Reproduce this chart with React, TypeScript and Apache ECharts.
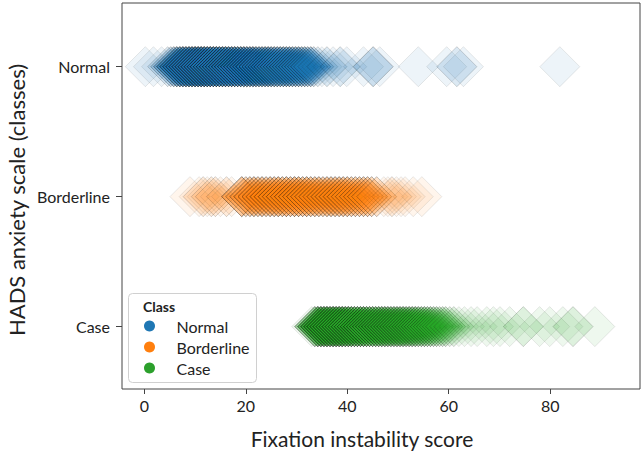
import React, { useEffect, useRef } from "react";
import * as echarts from "echarts";

const classes = ["Normal", "Borderline", "Case"];
const colors = ["#1f77b4", "#ff7f0e", "#2ca02c"];
const xTicks = [0, 20, 40, 60, 80];
const yTicks = [0, 1, 2];

// distinct scores, with how many subjects share each
const normalScores = [
  0.2, 1.8, 3.4, 4.6, 5.2, 5.8, 6.4, 7.0, 7.6, 8.2, 8.8, 9.4, 10.0, 10.6, 11.2, 11.8, 12.4,
  13.0, 13.6, 14.2, 14.8, 15.4, 16.0, 16.6, 17.2, 17.8, 18.4, 19.0, 19.6, 20.2, 20.8, 21.4,
  22.0, 22.6, 23.2, 23.8, 24.4, 25.0, 25.6, 26.2, 26.8, 27.4, 28.0, 28.6, 29.2, 29.8, 30.4,
  31.0, 31.6, 32.2, 32.8, 33.4, 34.2, 35.0, 36.0, 37.2, 38.6, 39.9, 43.2, 45.1, 46.4, 54.0,
  59.6, 61.6, 62.9, 81.9,
];
const normalCounts = [
  1, 1, 1, 2, 3, 5, 8, 10, 12, 12, 14, 14, 15, 15, 15, 15, 14,
  15, 14, 14, 13, 13, 13, 12, 12, 12, 11, 11, 11, 10, 10, 10,
  9, 9, 9, 9, 9, 8, 8, 8, 8, 8, 8, 8, 7, 7, 7,
  6, 6, 5, 5, 3, 2, 1, 2, 1, 2, 1, 1, 3, 1, 1,
  1, 2, 1, 1,
];

const borderlineScores = [
  9.0, 10.8, 11.6, 12.4, 13.2, 14.0, 15.0, 16.2, 17.2, 19.2, 20.0, 20.8, 21.6, 22.4, 23.2,
  24.0, 24.8, 25.6, 26.4, 27.2, 28.0, 28.8, 29.6, 30.4, 31.2, 32.0, 32.8, 33.6, 34.4, 35.2,
  36.0, 36.8, 37.6, 38.4, 39.2, 40.0, 40.8, 41.6, 42.4, 43.2, 44.0, 44.8, 45.8, 47.2, 48.0,
  48.8, 49.7, 50.6, 51.4, 53.0, 54.7,
];
const borderlineCounts = [
  1, 1, 2, 1, 2, 2, 1, 2, 1, 6, 4, 5, 6, 5, 6,
  5, 6, 6, 7, 6, 7, 6, 7, 7, 6, 7, 6, 6, 6, 5,
  6, 6, 6, 6, 6, 6, 5, 5, 5, 5, 5, 4, 3, 1, 1,
  2, 1, 1, 1, 1, 1,
];

const caseScores = [
  33.0, 33.6, 34.2, 34.8, 35.4, 36.0, 36.6, 37.2, 37.8, 38.4, 39.0, 39.6, 40.2, 40.8, 41.4,
  42.0, 42.6, 43.2, 43.8, 44.4, 45.0, 45.6, 46.2, 46.8, 47.4, 48.0, 48.6, 49.2, 49.8, 50.4,
  51.0, 51.6, 52.2, 52.8, 53.4, 54.0, 54.6, 55.2, 55.8, 56.4, 57.0, 57.6, 58.2, 58.8, 59.4,
  60.2, 61.0, 62.0, 63.1, 64.4, 65.6, 67.5, 68.8, 70.1, 72.0, 74.7, 77.9, 79.9, 82.5, 84.5,
  88.8,
];
const caseCounts = [
  1, 6, 10, 12, 12, 13, 12, 13, 12, 12, 12, 11, 11, 11, 10,
  10, 10, 10, 9, 9, 9, 9, 9, 9, 9, 8, 8, 8, 8, 8,
  8, 7, 7, 7, 7, 6, 6, 6, 5, 5, 4, 4, 3, 3, 3,
  2, 2, 1, 1, 1, 1, 1, 1, 1, 1, 2, 1, 1, 1, 2,
  1,
];

const scoreLists = [normalScores, borderlineScores, caseScores];
const countLists = [normalCounts, borderlineCounts, caseCounts];

function hexToRgba(hex: string, a: number) {
  const n = parseInt(hex.slice(1), 16);
  return `rgba(${(n >> 16) & 255},${(n >> 8) & 255},${n & 255},${a})`;
}

function buildData(scores: number[], counts: number[], cls: number) {
  const out: number[][] = [];
  scores.forEach((s, k) => {
    for (let j = 0; j < counts[k]; j++) out.push([s, cls]);
  });
  return out;
}

const FONT = "Lato, 'Noto Sans', sans-serif";

export default function App() {
  const ref = useRef<HTMLDivElement>(null);
  useEffect(() => {
    if (!ref.current) return;
    const chart = echarts.init(ref.current, undefined, { renderer: "svg" });
    chart.setOption({
      animation: false,
      backgroundColor: "#ffffff",
      textStyle: { fontFamily: FONT },
      grid: {
        left: 122,
        top: 3,
        width: 518,
        height: 386,
        show: true,
        borderColor: "#444",
        borderWidth: 1,
        backgroundColor: "transparent",
        containLabel: false,
        outerBoundsMode: "none",
      },
      xAxis: {
        type: "value",
        min: -4.4,
        max: 97.7,
        splitLine: { show: false },
        axisLine: { show: false, onZero: false },
        axisTick: {
          show: true,
          length: 5,
          lineStyle: { color: "#444" },
          customValues: xTicks,
        },
        axisLabel: {
          customValues: xTicks,
          margin: 8,
          fontSize: 16,
          color: "#222",
          fontFamily: FONT,
        },
      },
      yAxis: {
        type: "value",
        inverse: true,
        min: -0.49,
        max: 2.48,
        splitLine: { show: false },
        axisLine: { show: false, onZero: false },
        axisTick: {
          show: true,
          length: 6,
          lineStyle: { color: "#444" },
          customValues: yTicks,
        },
        axisLabel: {
          customValues: yTicks,
          margin: 12,
          fontSize: 16,
          color: "#222",
          fontFamily: FONT,
          formatter: (v: number) => classes[Math.round(v)] ?? "",
        },
      },
      legend: {
        orient: "vertical",
        left: 139,
        top: 313,
        itemWidth: 20,
        itemHeight: 11,
        itemGap: 5,
        icon: "circle",
        z: 10,
        textStyle: {
          fontSize: 16,
          color: "#222",
          fontFamily: FONT,
          padding: [0, 0, 0, 12],
        },
        data: classes.map((c, i) => ({
          name: c,
          itemStyle: { color: colors[i], opacity: 1, borderWidth: 0 },
        })),
      },
      graphic: [
        {
          type: "rect",
          z: 8,
          shape: { x: 128.5, y: 293.5, width: 128, height: 89, r: 4 },
          style: { fill: "rgba(255,255,255,0.85)", stroke: "#d0d0d0", lineWidth: 1 },
        },
        {
          type: "text",
          z: 9,
          x: 143,
          y: 306,
          style: {
            text: "Class",
            fontSize: 14,
            fontWeight: "bold",
            fontFamily: FONT,
            fill: "#222",
            verticalAlign: "middle",
          },
        },
        {
          type: "text",
          x: 362,
          y: 438,
          style: {
            text: "Fixation instability score",
            fontSize: 21,
            fontFamily: FONT,
            fill: "#222",
            align: "center",
            verticalAlign: "middle",
          },
        },
        {
          type: "text",
          x: 16,
          y: 200,
          rotation: Math.PI / 2,
          style: {
            text: "HADS anxiety scale (classes)",
            fontSize: 22,
            fontFamily: FONT,
            fill: "#222",
            align: "center",
            verticalAlign: "middle",
          },
        },
      ],
      series: classes.map((c, i) => ({
        name: c,
        type: "scatter",
        symbol: "diamond",
        symbolSize: 40,
        z: 2,
        itemStyle: {
          color: hexToRgba(colors[i], 0.1),
          borderColor: "rgba(20,20,20,0.12)",
          borderWidth: 1,
        },
        emphasis: { disabled: true },
        data: buildData(scoreLists[i], countLists[i], i),
      })),
    });
    return () => chart.dispose();
  }, []);
  return (
    <div
      ref={ref}
      style={{ position: "fixed", left: 0, top: 0, width: 644, height: 452 }}
    />
  );
}
